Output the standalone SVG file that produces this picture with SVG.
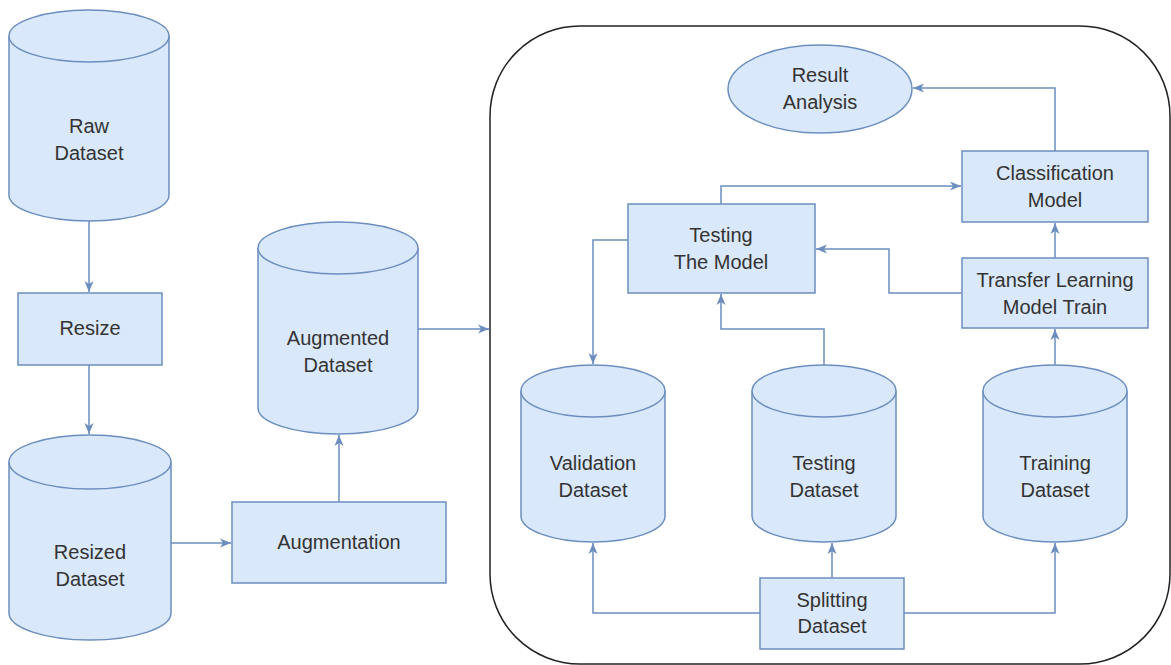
<svg xmlns="http://www.w3.org/2000/svg" width="1171" height="665" viewBox="0 0 1171 665">
<style>
.n{fill:#dae8fc;stroke:#6c8ebf;stroke-width:1.5}
.t{font-family:"Liberation Sans",Arial,sans-serif;font-size:20px;fill:#333;text-anchor:middle;dominant-baseline:central}
.c{fill:none;stroke:#6c8ebf;stroke-width:1.5;marker-end:url(#a)}
</style>
<defs>
<marker id="a" markerUnits="userSpaceOnUse" markerWidth="12" markerHeight="10" refX="11" refY="5" orient="auto" viewBox="0 0 12 10">
<path d="M0,0.5 L11,5 L0,9.5 L3,5 z" fill="#6c8ebf"/>
</marker>
</defs>
<rect width="1171" height="665" fill="#fff"/>
<rect id="container" x="490" y="26" width="680" height="638" rx="90" ry="90" fill="none" stroke="#222" stroke-width="1.5"/>
<g id="connectors">
<path class="c" d="M89,221 L89,292"/>
<path class="c" d="M89,365 L89,434"/>
<path class="c" d="M171,543 L231,543"/>
<path class="c" d="M339,502 L339,435"/>
<path class="c" d="M418,329 L489,329"/>
<path class="c" d="M1055,151 L1055,88 L913,88"/>
<path class="c" d="M1055,258 L1055,223"/>
<path class="c" d="M1055,365 L1055,329"/>
<path class="c" d="M721,204 L721,186 L961,186"/>
<path class="c" d="M962,293 L889,293 L889,249 L816,249"/>
<path class="c" d="M628,240 L593,240 L593,364"/>
<path class="c" d="M824,365 L824,329 L721,329 L721,294"/>
<path class="c" d="M760,613 L593,613 L593,543"/>
<path class="c" d="M832,578 L832,543"/>
<path class="c" d="M904,613 L1055,613 L1055,543"/>
</g>
<g id="raw">
<path class="n" d="M9,36 A80,26 0 0 1 169,36 L169,195 A80,26 0 0 1 9,195 Z"/>
<path class="n" d="M9,36 A80,26 0 0 0 169,36" fill="none"/>
<text class="t" x="89" y="126">Raw</text>
<text class="t" x="89" y="153">Dataset</text>
</g>
<g id="resize">
<rect class="n" x="18" y="293" width="144" height="72"/>
<text class="t" x="90" y="328">Resize</text>
</g>
<g id="resized">
<path class="n" d="M9,462 A81,27 0 0 1 171,462 L171,613 A81,27 0 0 1 9,613 Z"/>
<path class="n" d="M9,462 A81,27 0 0 0 171,462" fill="none"/>
<text class="t" x="90" y="552">Resized</text>
<text class="t" x="90" y="579">Dataset</text>
</g>
<g id="augmentation">
<rect class="n" x="232" y="502" width="214" height="81"/>
<text class="t" x="339" y="542">Augmentation</text>
</g>
<g id="augmented">
<path class="n" d="M258,248 A80,26 0 0 1 418,248 L418,408 A80,26 0 0 1 258,408 Z"/>
<path class="n" d="M258,248 A80,26 0 0 0 418,248" fill="none"/>
<text class="t" x="338" y="338">Augmented</text>
<text class="t" x="338" y="365">Dataset</text>
</g>
<g id="result">
<ellipse class="n" cx="820" cy="89" rx="92" ry="44"/>
<text class="t" x="820" y="75">Result</text>
<text class="t" x="820" y="102">Analysis</text>
</g>
<g id="classification">
<rect class="n" x="962" y="151" width="186" height="71"/>
<text class="t" x="1055" y="173">Classification</text>
<text class="t" x="1055" y="200">Model</text>
</g>
<g id="transfer">
<rect class="n" x="962" y="258" width="186" height="70"/>
<text class="t" x="1055" y="280">Transfer Learning</text>
<text class="t" x="1055" y="307">Model Train</text>
</g>
<g id="testingmodel">
<rect class="n" x="628" y="204" width="187" height="89"/>
<text class="t" x="721" y="235">Testing</text>
<text class="t" x="721" y="262">The Model</text>
</g>
<g id="validation">
<path class="n" d="M521,391 A72,26 0 0 1 665,391 L665,516 A72,26 0 0 1 521,516 Z"/>
<path class="n" d="M521,391 A72,26 0 0 0 665,391" fill="none"/>
<text class="t" x="593" y="463">Validation</text>
<text class="t" x="593" y="490">Dataset</text>
</g>
<g id="testingds">
<path class="n" d="M752,391 A72,26 0 0 1 896,391 L896,516 A72,26 0 0 1 752,516 Z"/>
<path class="n" d="M752,391 A72,26 0 0 0 896,391" fill="none"/>
<text class="t" x="824" y="463">Testing</text>
<text class="t" x="824" y="490">Dataset</text>
</g>
<g id="training">
<path class="n" d="M983,391 A72,26 0 0 1 1127,391 L1127,516 A72,26 0 0 1 983,516 Z"/>
<path class="n" d="M983,391 A72,26 0 0 0 1127,391" fill="none"/>
<text class="t" x="1055" y="463">Training</text>
<text class="t" x="1055" y="490">Dataset</text>
</g>
<g id="splitting">
<rect class="n" x="760" y="578" width="144" height="71"/>
<text class="t" x="832" y="600">Splitting</text>
<text class="t" x="832" y="626">Dataset</text>
</g>
</svg>
